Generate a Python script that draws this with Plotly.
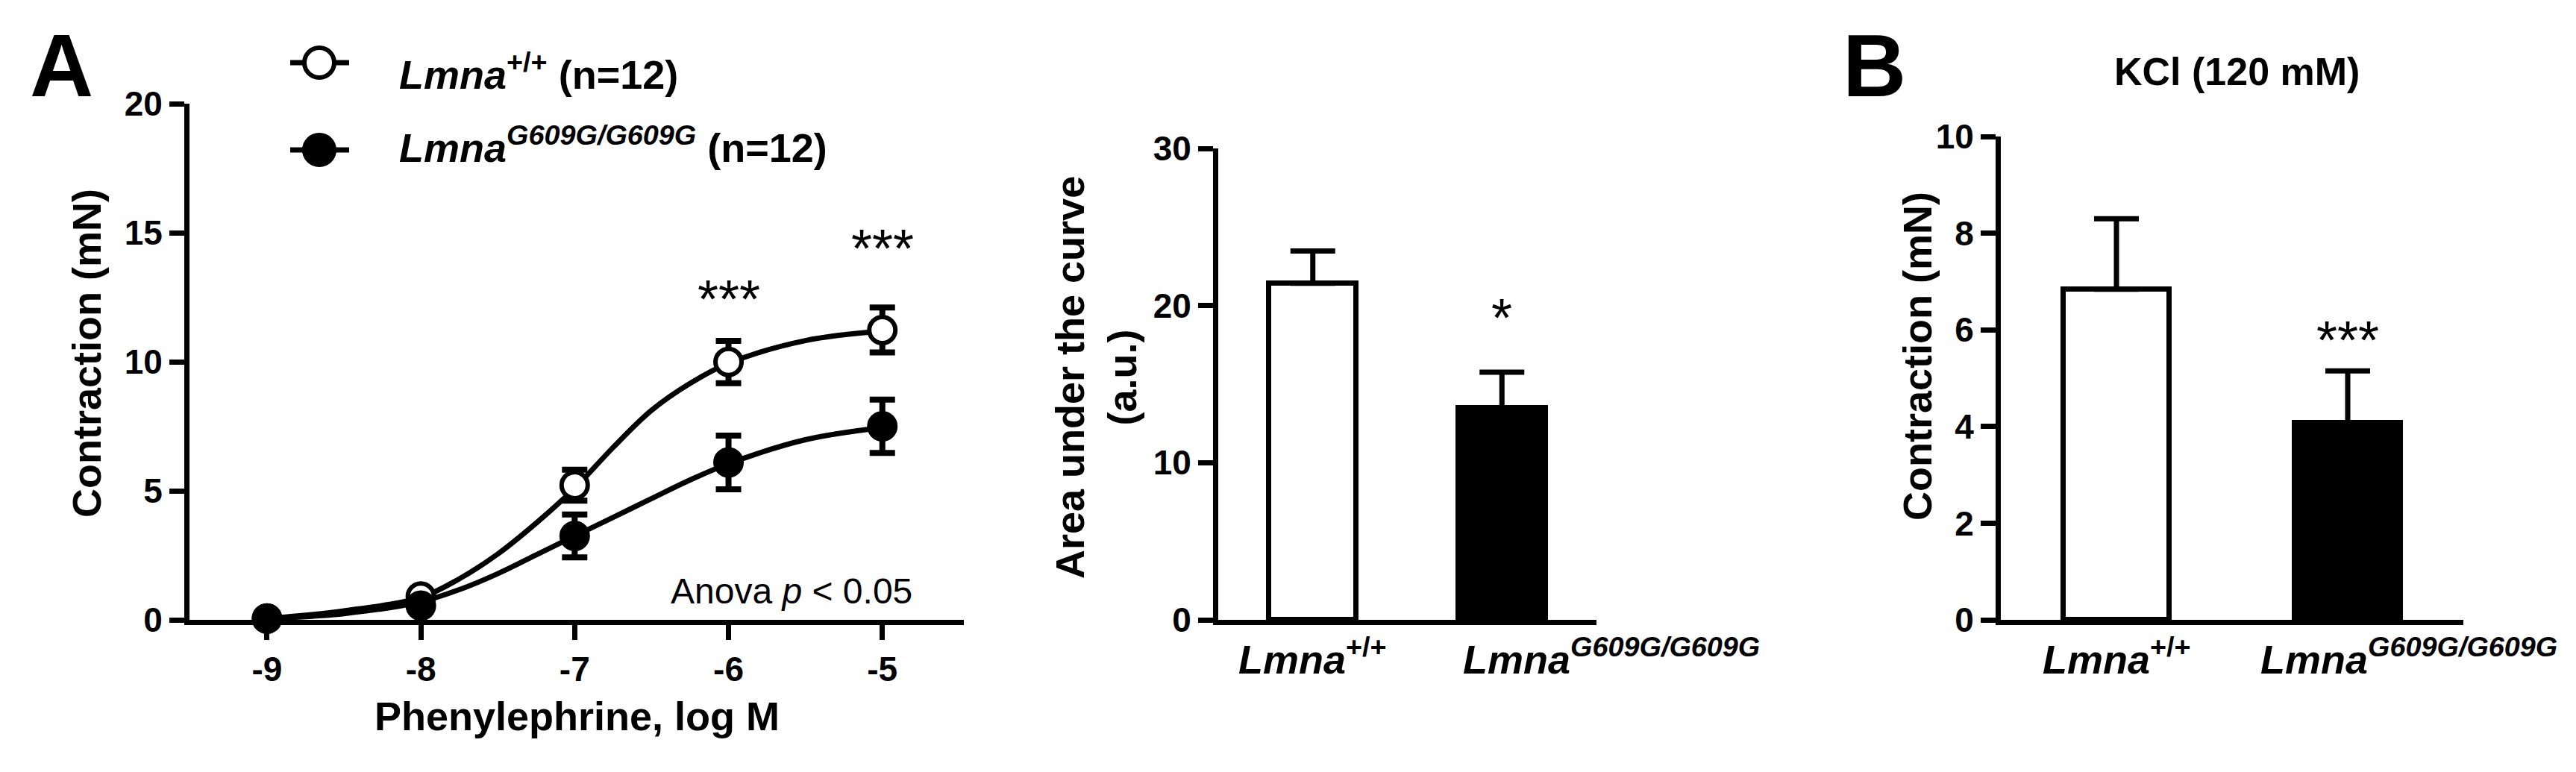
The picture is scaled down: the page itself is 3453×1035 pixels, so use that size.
import plotly.graph_objects as go

FONT = "Arial, Liberation Sans, sans-serif"
W, H = 3453, 1035

# panel A (left): phenylephrine concentration-response
log_conc = [-9, -8, -7, -6, -5]
conc_labels = ["-9", "-8", "-7", "-6", "-5"]
wt_mean = [0.05, 0.9, 5.22, 9.99, 11.23]
wt_sem = [0.1, 0.2, 0.6, 0.82, 0.87]
mut_mean = [0.05, 0.55, 3.25, 6.1, 7.5]
mut_sem = [0.1, 0.2, 0.83, 1.04, 1.03]

# fitted curves
fit_x = [-9, -8.5, -8, -7.75, -7.5, -7.25, -7, -6.75, -6.5, -6.25, -6, -5.5, -5]
wt_fit = [0.05, 0.35, 0.87, 1.59, 2.55, 3.75, 5.1, 6.68, 8.12, 9.16, 9.94, 10.82, 11.19]
mut_fit = [0.05, 0.24, 0.7, 1.17, 1.79, 2.52, 3.25, 3.97, 4.7, 5.42, 6.05, 6.98, 7.45]

star_x = [-6, -5]
star_y = [12.57, 14.55]

# panel A (right): area under the curve
genotypes = ["wt", "mut"]
geno_labels = ["<i>Lmna</i><sup>+/+</sup>", "<i>Lmna<sup>G609G/G609G</sup></i>"]
auc_mean = [21.42, 13.49]
auc_sem = [2.05, 2.27]
auc_star_y = 19.15

# panel B: KCl 120 mM
kcl_mean = [6.84, 4.07]
kcl_sem = [1.46, 1.08]
kcl_star_y = 6.07

legend_names = ["<i>Lmna</i><sup>+/+</sup> (n=12)",
                "<i>Lmna<sup>G609G/G609G</sup></i> (n=12)"]

bar_fill = ["white", "black"]


def px_x(v):
    return v / W


def px_y(v):
    return 1 - v / H


fig = go.Figure()

# curves
for ys in [wt_fit, mut_fit]:
    fig.add_trace(go.Scatter(x=fit_x, y=ys, mode="lines", xaxis="x", yaxis="y",
                             line=dict(color="black", width=7, shape="spline", smoothing=1.0),
                             cliponaxis=False, showlegend=False))

# points with SEM
for mean, sem, fill in [(wt_mean, wt_sem, "white"), (mut_mean, mut_sem, "black")]:
    fig.add_trace(go.Scatter(x=log_conc, y=mean, mode="markers", xaxis="x", yaxis="y",
                             error_y=dict(type="data", array=sem, color="black",
                                          thickness=8, width=17),
                             marker=dict(symbol="circle", size=35, color=fill,
                                         line=dict(color="black", width=6)),
                             cliponaxis=False, showlegend=False))

# AUC bars
fig.add_trace(go.Bar(x=genotypes, y=auc_mean, xaxis="x2", yaxis="y2", width=0.46,
                     marker=dict(color=bar_fill, line=dict(color="black", width=7)),
                     error_y=dict(type="data", symmetric=False, array=auc_sem,
                                  arrayminus=[0, 0], color="black", thickness=7, width=30),
                     showlegend=False))

# KCl bars
fig.add_trace(go.Bar(x=genotypes, y=kcl_mean, xaxis="x3", yaxis="y3", width=0.46,
                     marker=dict(color=bar_fill, line=dict(color="black", width=7)),
                     error_y=dict(type="data", symmetric=False, array=kcl_sem,
                                  arrayminus=[0, 0], color="black", thickness=7, width=30),
                     showlegend=False))

axis_common = dict(showline=True, linewidth=7, linecolor="black", showgrid=False,
                   zeroline=False, ticks="outside", ticklen=20, tickwidth=7,
                   tickcolor="black",
                   tickfont=dict(family=FONT, size=46, color="black", weight="bold"))

bottom = px_y(823)

fig.update_layout(
    width=W, height=H,
    margin=dict(l=0, r=0, t=0, b=0),
    paper_bgcolor="white", plot_bgcolor="white",
    font=dict(family=FONT, color="black"),
    template="none",
    showlegend=False,
    bargap=0,
    xaxis=dict(axis_common, domain=[px_x(246), px_x(1284)], range=[-9.504, -4.47],
               anchor="y", tickvals=log_conc, ticktext=conc_labels),
    yaxis=dict(axis_common, domain=[bottom, px_y(131)], range=[0, 20],
               anchor="x", tickvals=[0, 5, 10, 15, 20]),
    xaxis2=dict(axis_common, domain=[px_x(1625), px_x(2132)], range=[-0.5, 1.5],
                anchor="y2", type="category", ticks="", showticklabels=False),
    yaxis2=dict(axis_common, domain=[bottom, px_y(191)], range=[0, 30],
                anchor="x2", tickvals=[0, 10, 20, 30]),
    xaxis3=dict(axis_common, domain=[px_x(2674), px_x(3294)], range=[-0.5, 1.5],
                anchor="y3", type="category", ticks="", showticklabels=False),
    yaxis3=dict(axis_common, domain=[bottom, px_y(175)], range=[0, 10],
                anchor="x3", tickvals=[0, 2, 4, 6, 8, 10]),
)

bold54 = dict(family=FONT, size=54, color="black", weight="bold")
ann = []


def paper_text(text, x, y, font, **kw):
    d = dict(text=text, x=px_x(x), y=px_y(y), xref="paper", yref="paper",
             xanchor="center", yanchor="middle", showarrow=False, font=font)
    d.update(kw)
    ann.append(d)


# panel letters
letter_font = dict(family=FONT, size=118, color="black", weight="bold")
paper_text("A", 74, 80, letter_font)
paper_text("B", 2504, 80, letter_font)

# axis titles
paper_text("Contraction (mN)", 108, 466, bold54, textangle=-90)
paper_text("Phenylephrine, log M", 765, 952, bold54)
paper_text("Area under the curve<br>(a.u.)", 1461, 498, bold54, textangle=-90)
paper_text("Contraction (mN)", 2562, 470, bold54, textangle=-90)
paper_text("KCl (120 mM)", 2990, 88, dict(family=FONT, size=52, color="black", weight="bold"))

# category labels under the bars
for xa, shifts in [("x2", [0, -54]), ("x3", [0, -119])]:
    for i, (g, lab) in enumerate(zip(genotypes, geno_labels)):
        ann.append(dict(text=lab, x=g, xref=xa, y=px_y(872), yref="paper",
                        xanchor="center" if i == 0 else "left", yanchor="middle",
                        xshift=shifts[i], showarrow=False, font=bold54))

# significance stars
star_font = dict(family=FONT, size=72, color="black")
for sx, sy in zip(star_x, star_y):
    ann.append(dict(text="***", x=sx, y=sy, xref="x", yref="y", showarrow=False,
                    xanchor="center", yanchor="middle", yshift=-5, font=star_font))
ann.append(dict(text="*", x=genotypes[1], y=auc_star_y, xref="x2", yref="y2",
                showarrow=False, xanchor="center", yanchor="middle", yshift=2,
                font=star_font))
ann.append(dict(text="***", x=genotypes[1], y=kcl_star_y, xref="x3", yref="y3",
                showarrow=False, xanchor="center", yanchor="middle", yshift=-18,
                font=star_font))

paper_text("Anova <i>p</i> &lt; 0.05", 1217, 784, dict(family=FONT, size=48, color="black"),
           xanchor="right")

# legend text
for name, yc in zip(legend_names, [88, 186]):
    paper_text(name, 525, yc, bold54, xanchor="left")

fig.update_layout(annotations=ann)

# legend keys
shapes = []
for yc, fill in [(76, "white"), (193, "black")]:
    shapes.append(dict(type="line", xref="paper", yref="paper", x0=px_x(381), x1=px_x(460),
                       y0=px_y(yc), y1=px_y(yc), line=dict(color="black", width=7)))
    shapes.append(dict(type="circle", xref="paper", yref="paper",
                       xsizemode="pixel", ysizemode="pixel",
                       xanchor=px_x(420), yanchor=px_y(yc),
                       x0=-20, x1=20, y0=-20, y1=20,
                       fillcolor=fill, line=dict(color="black", width=6)))
fig.update_layout(shapes=shapes)

fig.write_html("out.html")
